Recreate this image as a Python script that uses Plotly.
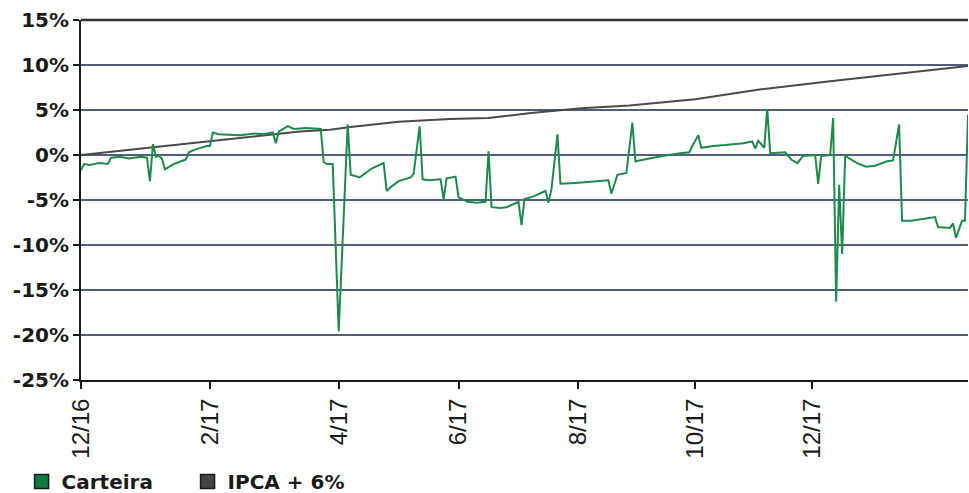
import plotly.graph_objects as go

# Trading-day index (x) and returns in % for the portfolio
carteira_x = [0, 1, 3, 6, 9, 10, 13, 16, 20, 22, 23, 24, 25, 26, 27, 28, 31, 35, 36, 38, 42, 43,
              44, 46, 53, 58, 61, 64, 65, 66, 69, 71, 75, 78, 80, 81, 82, 84, 86, 89,
              90, 93, 97, 101, 102, 104, 106, 110, 111, 113, 114, 116, 120, 121, 122, 125,
              126, 129, 132, 135, 136, 137, 140, 142, 145, 146, 147, 148, 151, 155, 156, 157,
              159, 160, 165, 170, 173, 176, 177, 179, 182, 184, 185, 189, 194, 200, 203, 204,
              206, 207, 211, 215, 221, 224, 225, 226, 228, 229, 230, 235, 237, 239, 241, 245,
              246, 247, 250, 251, 252, 253, 254, 255, 259, 262, 265, 269, 271, 273, 274, 277,
              283, 285, 286, 290, 291, 292, 294, 295, 296]
carteira_y = [-1.7, -1.0, -1.1, -0.9, -1.0, -0.3, -0.2, -0.4, -0.2, -0.3, -2.9, 1.2, -0.2, -0.1, -0.4, -1.6, -1.0, -0.5, 0.3, 0.6, 1.0, 1.0,
              2.5, 2.3, 2.2, 2.4, 2.3, 2.5, 1.3, 2.6, 3.2, 2.9, 3.0, 2.9, 2.9, -0.8, -1.0, -1.0, -19.6, 3.4,
              -2.2, -2.5, -1.5, -0.9, -4.0, -3.4, -2.9, -2.5, -2.1, 3.2, -2.7, -2.8, -2.7, -4.9, -2.6, -2.4,
              -4.7, -5.2, -5.3, -5.2, 0.4, -5.8, -5.9, -5.8, -5.3, -5.2, -7.8, -4.9, -4.6, -4.0, -5.3, -3.8,
              2.3, -3.2, -3.1, -3.0, -2.9, -2.8, -4.3, -2.2, -2.0, 3.6, -0.7, -0.4, -0.1, 0.2, 0.3, 1.0,
              2.2, 0.8, 1.0, 1.1, 1.3, 1.5, 0.7, 1.6, 0.8, 5.1, 0.2, 0.3, -0.5, -0.9, -0.1, 0.0,
              -3.2, -0.1, 0.0, 4.1, -16.3, -3.3, -11.0, -0.1, -0.9, -1.3, -1.2, -0.7, -0.6, 3.4, -7.3, -7.3,
              -7.0, -6.9, -8.0, -8.1, -7.6, -9.2, -7.3, -7.3, 4.5]

# Benchmark IPCA + 6%
ipca_x = [0, 40, 73, 83, 90, 106, 123, 136, 151, 167, 183, 205, 227, 250, 272, 296]
ipca_y = [0.0, 1.4, 2.6, 2.8, 3.1, 3.7, 4.0, 4.1, 4.7, 5.2, 5.5, 6.2, 7.3, 8.2, 9.0, 9.9]

# Axis ticks
x_tick_vals = [0, 43, 86, 126, 166, 205, 244]
x_tick_text = ["12/16", "2/17", "4/17", "6/17", "8/17", "10/17", "12/17"]
y_tick_vals = [-25, -20, -15, -10, -5, 0, 5, 10, 15]
y_tick_text = ["-25%", "-20%", "-15%", "-10%", "-5%", "0%", "5%", "10%", "15%"]

GREEN = "#1d8a4c"
GRAY = "#4a4a4a"

fig = go.Figure()
fig.add_trace(go.Scatter(x=ipca_x, y=ipca_y, mode="lines",
                         line=dict(color=GRAY, width=2), showlegend=False, name="IPCA + 6%"))
fig.add_trace(go.Scatter(x=carteira_x, y=carteira_y, mode="lines",
                         line=dict(color=GREEN, width=2), showlegend=False, name="Carteira"))
# legend entries as squares
fig.add_trace(go.Scatter(x=[None], y=[None], mode="markers", name="Carteira",
                         marker=dict(symbol="square", size=14, color="#0f7a3c",
                                     line=dict(color="#1a1a1a", width=1.5))))
fig.add_trace(go.Scatter(x=[None], y=[None], mode="markers", name="IPCA + 6%",
                         marker=dict(symbol="square", size=14, color="#444444",
                                     line=dict(color="#1a1a1a", width=1.5))))

fig.update_layout(
    width=969, height=493,
    margin=dict(l=81, r=1, t=20, b=113, autoexpand=False),
    paper_bgcolor="white", plot_bgcolor="white",
    font=dict(family="DejaVu Sans", color="#1a1a1a"),
    showlegend=True,
    legend=dict(orientation="h", x=-0.067, xanchor="left", y=-0.228, yanchor="top",
                font=dict(family="DejaVu Sans", size=20, color="#1a1a1a", weight="bold"),
                entrywidth=121, entrywidthmode="pixels", itemwidth=30,
                bgcolor="rgba(0,0,0,0)"),
    xaxis=dict(range=[0, 296], tickmode="array", tickvals=x_tick_vals, ticktext=x_tick_text,
               tickangle=-90, tickfont=dict(family="Liberation Sans", size=24, color="#1a1a1a"),
               showgrid=False, zeroline=False, showline=True, linecolor="#1a1a1a", linewidth=2,
               ticks="outside", ticklen=7, tickwidth=2, tickcolor="#1a1a1a", automargin=False),
    yaxis=dict(range=[-25, 15], tickmode="array", tickvals=y_tick_vals, ticktext=y_tick_text,
               tickfont=dict(family="DejaVu Sans", size=20, color="#1a1a1a", weight="bold"),
               showgrid=True, gridcolor="#4f5f7c", gridwidth=2, zeroline=False,
               showline=True, linecolor="#1a1a1a", linewidth=2,
               ticks="outside", ticklen=6, tickwidth=2, tickcolor="#1a1a1a", automargin=False),
    shapes=[dict(type="line", xref="paper", yref="paper", x0=0, x1=1, y0=1, y1=1,
                 line=dict(color="#333333", width=2.5), layer="above")],
)

fig.write_html("out.html", config={"displayModeBar": False},
               post_script="document.body.style.margin='0';document.body.style.overflow='hidden';")
